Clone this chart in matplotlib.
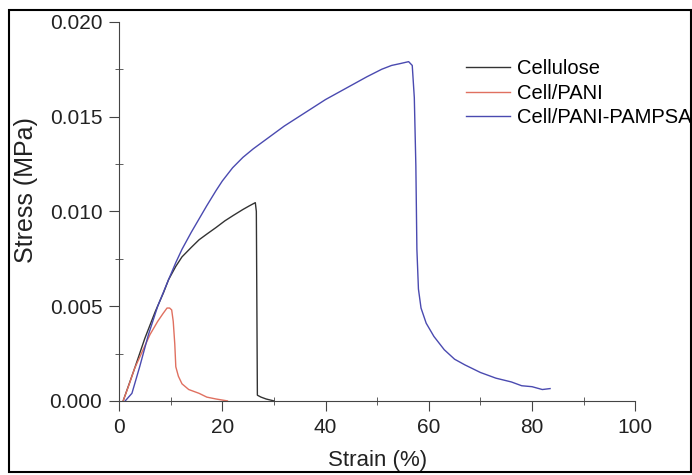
import matplotlib
matplotlib.use("Agg")
import matplotlib.pyplot as plt
from matplotlib.patches import Rectangle
from matplotlib.ticker import MultipleLocator, FormatStrFormatter

plt.rcParams['font.family'] = ['Liberation Sans', 'DejaVu Sans']

# strain (%) / stress (MPa)
cell_x = [0.8, 3.0, 5.0, 7.0, 8.6, 9.6, 11.0, 12.2, 14.0, 15.5, 17.0, 18.8, 20.5, 22.1, 24.0, 25.3, 26.4, 26.6, 26.8, 27.5, 28.5, 30.0]
cell_y = [0.0, 0.0017, 0.0033, 0.0047, 0.0057, 0.0064, 0.0071, 0.0076, 0.0081, 0.0085, 0.0088, 0.00915, 0.0095, 0.00978, 0.0101, 0.0103, 0.01046, 0.0100, 0.0003, 0.0002, 0.0001, 0.0]

pani_x = [0.8, 2.0, 3.0, 4.5, 6.0, 7.5, 8.5, 9.3, 9.8, 10.2, 10.5, 10.8, 11.0, 11.5, 12.2, 13.5, 15.5, 17.0, 18.8, 21.0]
pani_y = [0.0, 0.0009, 0.0017, 0.0026, 0.0035, 0.0042, 0.0046, 0.0049, 0.0049, 0.0048, 0.0042, 0.0030, 0.0018, 0.0013, 0.0009, 0.0006, 0.0004, 0.0002, 0.0001, 0.0]

blue_x = [1.2, 2.5, 4.0, 5.7, 7.5, 9.6, 11.0, 12.2, 14.0, 15.5, 17.0, 18.8, 20.0, 22.0, 24.0, 26.0, 28.0, 30.0, 32.0, 36.0, 40.0, 44.0, 48.0, 50.9, 52.8, 54.5, 56.1,
          56.8, 57.2, 57.5, 57.7, 58.0, 58.5, 59.5, 61.0, 63.0, 65.0, 67.0, 70.0, 73.0, 76.0, 78.0, 80.0, 82.0, 83.5]
blue_y = [0.0, 0.0004, 0.0018, 0.0035, 0.0050, 0.0064, 0.0073, 0.0080, 0.0089, 0.0096, 0.0103, 0.0111, 0.0116, 0.0123, 0.01285, 0.0133, 0.0137, 0.0141, 0.0145, 0.0152, 0.0159, 0.0165, 0.0171, 0.0175, 0.0177, 0.0178, 0.0179,
          0.0177, 0.0160, 0.0124, 0.0080, 0.0059, 0.0049, 0.0041, 0.0034, 0.0027, 0.0022, 0.0019, 0.0015, 0.0012, 0.0010, 0.0008, 0.00075, 0.0006, 0.00065]

labels = ['Cellulose', 'Cell/PANI', 'Cell/PANI-PAMPSA']
colors = ['#333333', '#e07060', '#4a4ab0']

fig = plt.figure(figsize=(6.92, 4.75), dpi=100)
ax = fig.add_axes([0.172, 0.156, 0.746, 0.798])

ax.plot(cell_x, cell_y, color=colors[0], lw=1.0, label=labels[0])
ax.plot(pani_x, pani_y, color=colors[1], lw=1.0, label=labels[1])
ax.plot(blue_x, blue_y, color=colors[2], lw=1.0, label=labels[2])

ax.set_xlim(0, 100)
ax.set_ylim(0, 0.020)
ax.xaxis.set_major_locator(MultipleLocator(20))
ax.xaxis.set_minor_locator(MultipleLocator(10))
ax.yaxis.set_major_locator(MultipleLocator(0.005))
ax.yaxis.set_minor_locator(MultipleLocator(0.0025))
ax.yaxis.set_major_formatter(FormatStrFormatter('%.3f'))
ax.spines['top'].set_visible(False)
ax.spines['right'].set_visible(False)
for s in ('left', 'bottom'):
    ax.spines[s].set_color('#444444')
ax.tick_params(which='both', colors='#444444', labelcolor='#222222', labelsize=15)
ax.tick_params(which='major', direction='out', length=7, pad=5)
ax.tick_params(which='minor', direction='inout', length=6)

ax.set_xlabel('Strain (%)', fontsize=16, color='#222222', labelpad=10)
ax.set_ylabel('Stress (MPa)', fontsize=18, color='#222222')
ax.yaxis.set_label_coords(-0.156, 0.557)

leg = ax.legend(loc='upper left', bbox_to_anchor=(0.656, 0.922), frameon=False,
                fontsize=14.5, handlelength=2.2, handletextpad=0.35, labelspacing=0.27,
                borderaxespad=0)

fig.patches.append(Rectangle((9 / 692, 3 / 475), 682 / 692, 462 / 475, transform=fig.transFigure,
                             fill=False, edgecolor='black', lw=1.5))

fig.savefig('out.png', dpi=100)
